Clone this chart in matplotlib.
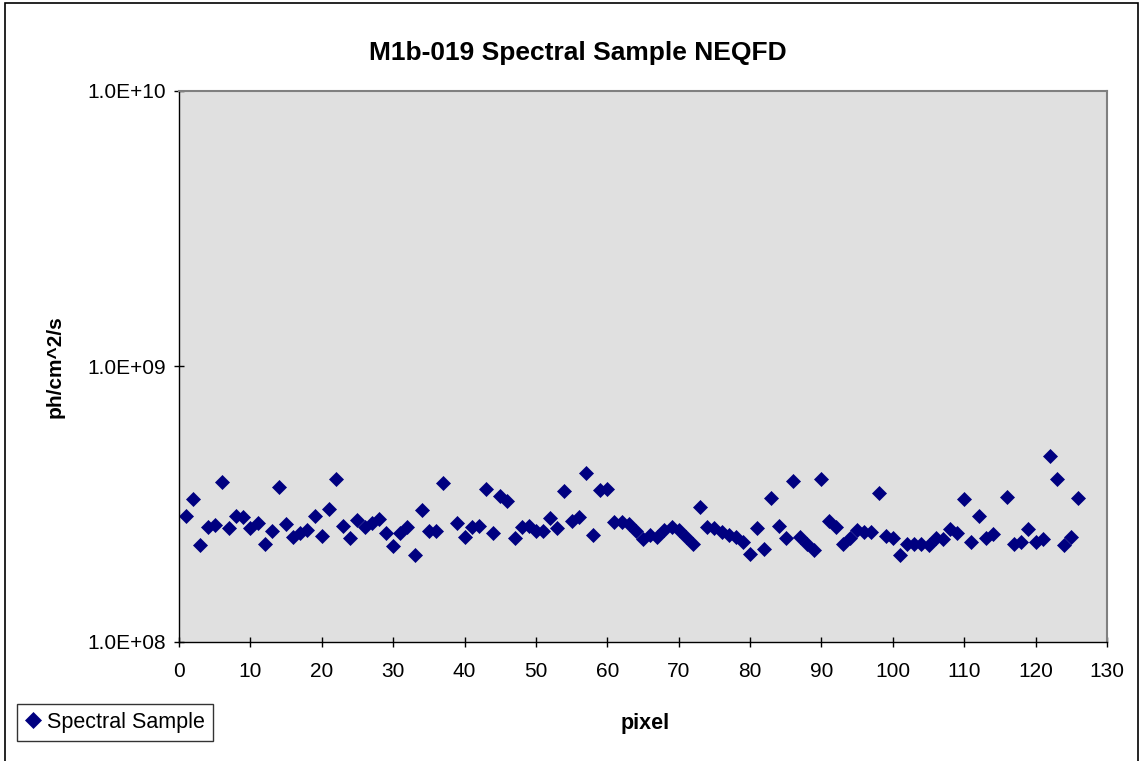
import numpy as np
import matplotlib
matplotlib.use("Agg")
from matplotlib import pyplot as plt
from matplotlib.patches import Rectangle
from matplotlib.ticker import FixedLocator, FuncFormatter, NullLocator

plt.rcParams['font.family'] = ['Liberation Sans', 'DejaVu Sans']

# NEQFD per pixel (ph/cm^2/s); pixels 38 and 115 have no point
pixels = [1, 2, 3, 4, 5, 6, 7, 8, 9, 10,
          11, 12, 13, 14, 15, 16, 17, 18, 19, 20,
          21, 22, 23, 24, 25, 26, 27, 28, 29, 30,
          31, 32, 33, 34, 35, 36, 37, 39, 40,
          41, 42, 43, 44, 45, 46, 47, 48, 49, 50,
          51, 52, 53, 54, 55, 56, 57, 58, 59, 60,
          61, 62, 63, 64, 65, 66, 67, 68, 69, 70,
          71, 72, 73, 74, 75, 76, 77, 78, 79, 80,
          81, 82, 83, 84, 85, 86, 87, 88, 89, 90,
          91, 92, 93, 94, 95, 96, 97, 98, 99, 100,
          101, 102, 103, 104, 105, 106, 107, 108, 109, 110,
          111, 112, 113, 114, 116, 117, 118, 119, 120,
          121, 122, 123, 124, 125, 126]
neqfd = [2.86e8, 3.29e8, 2.24e8, 2.60e8, 2.65e8, 3.80e8, 2.59e8, 2.86e8, 2.84e8, 2.58e8,
         2.69e8, 2.26e8, 2.51e8, 3.65e8, 2.67e8, 2.39e8, 2.48e8, 2.54e8, 2.86e8, 2.42e8,
         3.03e8, 3.89e8, 2.63e8, 2.38e8, 2.76e8, 2.61e8, 2.69e8, 2.78e8, 2.48e8, 2.22e8,
         2.47e8, 2.61e8, 2.06e8, 3.00e8, 2.53e8, 2.53e8, 3.77e8, 2.70e8, 2.39e8,
         2.60e8, 2.63e8, 3.57e8, 2.48e8, 3.38e8, 3.25e8, 2.37e8, 2.60e8, 2.63e8, 2.52e8,
         2.53e8, 2.80e8, 2.58e8, 3.53e8, 2.74e8, 2.84e8, 4.08e8, 2.44e8, 3.55e8, 3.58e8,
         2.72e8, 2.71e8, 2.67e8, 2.52e8, 2.36e8, 2.44e8, 2.40e8, 2.54e8, 2.60e8, 2.54e8,
         2.40e8, 2.27e8, 3.07e8, 2.61e8, 2.58e8, 2.50e8, 2.44e8, 2.40e8, 2.30e8, 2.08e8,
         2.58e8, 2.17e8, 3.31e8, 2.63e8, 2.37e8, 3.83e8, 2.40e8, 2.27e8, 2.15e8, 3.91e8,
         2.75e8, 2.60e8, 2.27e8, 2.37e8, 2.54e8, 2.50e8, 2.49e8, 3.46e8, 2.42e8, 2.37e8,
         2.06e8, 2.27e8, 2.27e8, 2.27e8, 2.24e8, 2.37e8, 2.35e8, 2.56e8, 2.47e8, 3.29e8,
         2.30e8, 2.86e8, 2.37e8, 2.46e8, 3.34e8, 2.26e8, 2.30e8, 2.56e8, 2.30e8,
         2.35e8, 4.72e8, 3.91e8, 2.24e8, 2.40e8, 3.33e8]

x_ticks = list(range(0, 131, 10))
y_ticks = [1e8, 1e9, 1e10]

fig = plt.figure(figsize=(11.43, 7.61), dpi=100)
W, H = 1143, 761
ax = fig.add_axes([179 / W, 1 - 641.5 / H, 928 / W, 550.5 / H])
ax.set_facecolor('#e0e0e0')

ax.plot(pixels, neqfd, linestyle='none', marker='D', ms=7.3,
        mfc='#000080', mec='#000080', mew=0.5, label='Spectral Sample')

ax.set_yscale('log')
ax.set_xlim(0, 130)
ax.set_ylim(1e8, 1e10)
ax.xaxis.set_major_locator(FixedLocator(x_ticks))
ax.yaxis.set_major_locator(FixedLocator(y_ticks))
ax.yaxis.set_minor_locator(NullLocator())
ax.yaxis.set_major_formatter(FuncFormatter(lambda v, p: f"{v:.1E}"))
ax.tick_params(direction='inout', length=7, width=1, labelsize=15, color='black')
ax.tick_params(axis='x', pad=11)
ax.tick_params(axis='y', pad=6)

for side in ['top', 'right']:
    ax.spines[side].set_color('#808080')
    ax.spines[side].set_linewidth(1.5)
for side in ['left', 'bottom']:
    ax.spines[side].set_color('black')
    ax.spines[side].set_linewidth(1)

fig.text(578 / W, 1 - 53 / H, 'M1b-019 Spectral Sample NEQFD',
         ha='center', va='center', fontsize=19, fontweight='bold')
ax.set_xlabel('pixel', fontsize=15.5, fontweight='bold')
ax.xaxis.set_label_coords(0.502, -0.13)
ax.set_ylabel('ph/cm^2/s', fontsize=15, fontweight='bold')
ax.yaxis.set_label_coords(-0.123, 0.5)

leg = fig.legend(loc='lower left', bbox_to_anchor=(17 / W, 1 - 741 / H),
                 fontsize=15.5, frameon=True, fancybox=False, handlelength=0.7,
                 handletextpad=0.3, borderpad=0.38, borderaxespad=0,
                 markerscale=1.1)
leg.get_frame().set_edgecolor('black')
leg.get_frame().set_linewidth(1)

# chart-area frame (bottom edge falls off the image, as in the original)
fig.patches.append(Rectangle((5 / W, -5 / H), 1133 / W, 763 / H,
                             transform=fig.transFigure, fill=False,
                             edgecolor='black', linewidth=1.2))

fig.savefig('out.png', dpi=100)
